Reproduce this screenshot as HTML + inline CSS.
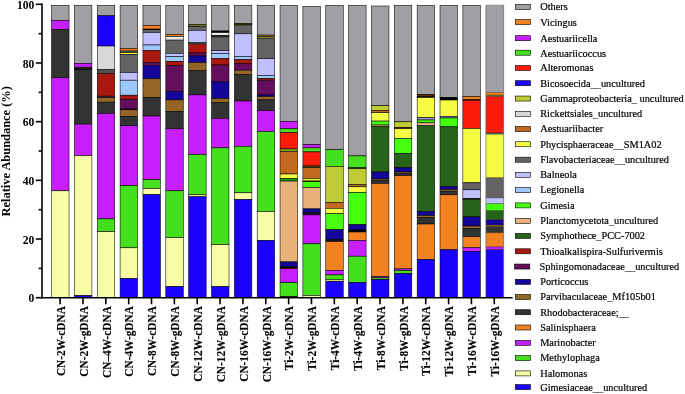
<!DOCTYPE html>
<html><head><meta charset="utf-8"><title>Relative Abundance</title>
<style>
html,body{margin:0;padding:0;background:#fff;}
body{width:685px;height:394px;overflow:hidden;}
svg{display:block;will-change:transform;}
text{font-family:"Liberation Serif",serif;fill:#000;}
.b{font-weight:bold;}
</style></head><body>
<svg width="685" height="394" viewBox="0 0 685 394">
<rect x="0" y="0" width="685" height="394" fill="#fff"/>
<g stroke="#000" stroke-width="0.55">
<rect x="51.55" y="5.30" width="17.50" height="15.30" fill="#a09fa4"/>
<rect x="51.55" y="20.60" width="17.50" height="8.80" fill="#c71fff"/>
<rect x="51.55" y="29.40" width="17.50" height="48.40" fill="#323433"/>
<rect x="51.55" y="77.80" width="17.50" height="113.00" fill="#c71fff"/>
<rect x="51.55" y="190.80" width="17.50" height="106.60" fill="#f6fda4"/>
</g>
<g stroke="#000" stroke-width="0.55">
<rect x="74.40" y="5.30" width="17.50" height="58.10" fill="#a09fa4"/>
<rect x="74.40" y="63.40" width="17.50" height="3.80" fill="#c71fff"/>
<rect x="74.40" y="67.20" width="17.50" height="1.80" fill="#323433"/>
<rect x="74.40" y="69.00" width="17.50" height="0.80" fill="#323433"/>
<rect x="74.40" y="69.80" width="17.50" height="54.30" fill="#323433"/>
<rect x="74.40" y="124.10" width="17.50" height="31.50" fill="#c71fff"/>
<rect x="74.40" y="155.60" width="17.50" height="140.10" fill="#f6fda4"/>
<rect x="74.40" y="295.70" width="17.50" height="1.70" fill="#1a00ff"/>
</g>
<g stroke="#000" stroke-width="0.55">
<rect x="97.25" y="5.30" width="17.50" height="10.50" fill="#a09fa4"/>
<rect x="97.25" y="15.80" width="17.50" height="30.20" fill="#1a00ff"/>
<rect x="97.25" y="46.00" width="17.50" height="23.40" fill="#d8d8d8"/>
<rect x="97.25" y="69.40" width="17.50" height="4.10" fill="#505050"/>
<rect x="97.25" y="73.50" width="17.50" height="22.70" fill="#a8180e"/>
<rect x="97.25" y="96.20" width="17.50" height="1.40" fill="#630f5e"/>
<rect x="97.25" y="97.60" width="17.50" height="4.60" fill="#956528"/>
<rect x="97.25" y="102.20" width="17.50" height="11.30" fill="#323433"/>
<rect x="97.25" y="113.50" width="17.50" height="105.40" fill="#c71fff"/>
<rect x="97.25" y="218.90" width="17.50" height="12.80" fill="#44e01e"/>
<rect x="97.25" y="231.70" width="17.50" height="65.70" fill="#f6fda4"/>
</g>
<g stroke="#000" stroke-width="0.55">
<rect x="120.10" y="5.30" width="17.50" height="43.00" fill="#a09fa4"/>
<rect x="120.10" y="48.30" width="17.50" height="2.70" fill="#f28122"/>
<rect x="120.10" y="51.00" width="17.50" height="1.70" fill="#636363"/>
<rect x="120.10" y="52.70" width="17.50" height="1.70" fill="#f4fb40"/>
<rect x="120.10" y="54.40" width="17.50" height="18.10" fill="#636363"/>
<rect x="120.10" y="72.50" width="17.50" height="7.70" fill="#c0c0ff"/>
<rect x="120.10" y="80.20" width="17.50" height="15.00" fill="#9cc8fc"/>
<rect x="120.10" y="95.20" width="17.50" height="4.30" fill="#a8180e"/>
<rect x="120.10" y="99.50" width="17.50" height="9.50" fill="#630f5e"/>
<rect x="120.10" y="109.00" width="17.50" height="0.80" fill="#14069a"/>
<rect x="120.10" y="109.80" width="17.50" height="6.50" fill="#956528"/>
<rect x="120.10" y="116.30" width="17.50" height="9.50" fill="#323433"/>
<rect x="120.10" y="125.80" width="17.50" height="59.90" fill="#c71fff"/>
<rect x="120.10" y="185.70" width="17.50" height="62.10" fill="#44e01e"/>
<rect x="120.10" y="247.80" width="17.50" height="30.80" fill="#f6fda4"/>
<rect x="120.10" y="278.60" width="17.50" height="18.80" fill="#1a00ff"/>
</g>
<g stroke="#000" stroke-width="0.55">
<rect x="142.95" y="5.30" width="17.50" height="20.10" fill="#a09fa4"/>
<rect x="142.95" y="25.40" width="17.50" height="3.70" fill="#f28122"/>
<rect x="142.95" y="29.10" width="17.50" height="0.70" fill="#323433"/>
<rect x="142.95" y="29.80" width="17.50" height="2.70" fill="#636363"/>
<rect x="142.95" y="32.50" width="17.50" height="12.50" fill="#c0c0ff"/>
<rect x="142.95" y="45.00" width="17.50" height="5.30" fill="#9cc8fc"/>
<rect x="142.95" y="50.30" width="17.50" height="12.50" fill="#a8180e"/>
<rect x="142.95" y="62.80" width="17.50" height="3.00" fill="#630f5e"/>
<rect x="142.95" y="65.80" width="17.50" height="13.00" fill="#14069a"/>
<rect x="142.95" y="78.80" width="17.50" height="18.80" fill="#956528"/>
<rect x="142.95" y="97.60" width="17.50" height="18.40" fill="#323433"/>
<rect x="142.95" y="116.00" width="17.50" height="63.70" fill="#c71fff"/>
<rect x="142.95" y="179.70" width="17.50" height="8.80" fill="#44e01e"/>
<rect x="142.95" y="188.50" width="17.50" height="6.00" fill="#f6fda4"/>
<rect x="142.95" y="194.50" width="17.50" height="102.90" fill="#1a00ff"/>
</g>
<g stroke="#000" stroke-width="0.55">
<rect x="165.80" y="5.30" width="17.50" height="29.10" fill="#a09fa4"/>
<rect x="165.80" y="34.40" width="17.50" height="2.20" fill="#f28122"/>
<rect x="165.80" y="36.60" width="17.50" height="3.50" fill="#ececec"/>
<rect x="165.80" y="40.10" width="17.50" height="13.30" fill="#636363"/>
<rect x="165.80" y="53.40" width="17.50" height="3.30" fill="#c0c0ff"/>
<rect x="165.80" y="56.70" width="17.50" height="4.60" fill="#9cc8fc"/>
<rect x="165.80" y="61.30" width="17.50" height="4.00" fill="#a8180e"/>
<rect x="165.80" y="65.30" width="17.50" height="26.30" fill="#630f5e"/>
<rect x="165.80" y="91.60" width="17.50" height="8.30" fill="#14069a"/>
<rect x="165.80" y="99.90" width="17.50" height="11.80" fill="#956528"/>
<rect x="165.80" y="111.70" width="17.50" height="17.10" fill="#323433"/>
<rect x="165.80" y="128.80" width="17.50" height="62.00" fill="#c71fff"/>
<rect x="165.80" y="190.80" width="17.50" height="46.90" fill="#44e01e"/>
<rect x="165.80" y="237.70" width="17.50" height="48.70" fill="#f6fda4"/>
<rect x="165.80" y="286.40" width="17.50" height="11.00" fill="#1a00ff"/>
</g>
<g stroke="#000" stroke-width="0.55">
<rect x="188.65" y="5.30" width="17.50" height="19.00" fill="#a09fa4"/>
<rect x="188.65" y="24.30" width="17.50" height="2.20" fill="#6e7a18"/>
<rect x="188.65" y="26.50" width="17.50" height="3.80" fill="#636363"/>
<rect x="188.65" y="30.30" width="17.50" height="12.10" fill="#c0c0ff"/>
<rect x="188.65" y="42.40" width="17.50" height="1.50" fill="#5f9fb8"/>
<rect x="188.65" y="43.90" width="17.50" height="9.10" fill="#a8180e"/>
<rect x="188.65" y="53.00" width="17.50" height="3.00" fill="#630f5e"/>
<rect x="188.65" y="56.00" width="17.50" height="6.60" fill="#14069a"/>
<rect x="188.65" y="62.60" width="17.50" height="8.20" fill="#956528"/>
<rect x="188.65" y="70.80" width="17.50" height="24.10" fill="#323433"/>
<rect x="188.65" y="94.90" width="17.50" height="59.70" fill="#c71fff"/>
<rect x="188.65" y="154.60" width="17.50" height="40.20" fill="#44e01e"/>
<rect x="188.65" y="194.80" width="17.50" height="2.00" fill="#f6fda4"/>
<rect x="188.65" y="196.80" width="17.50" height="100.60" fill="#1a00ff"/>
</g>
<g stroke="#000" stroke-width="0.55">
<rect x="211.50" y="5.30" width="17.50" height="25.70" fill="#a09fa4"/>
<rect x="211.50" y="31.00" width="17.50" height="1.70" fill="#000000"/>
<rect x="211.50" y="32.70" width="17.50" height="2.60" fill="#ececec"/>
<rect x="211.50" y="35.30" width="17.50" height="1.60" fill="#323433"/>
<rect x="211.50" y="36.90" width="17.50" height="13.80" fill="#636363"/>
<rect x="211.50" y="50.70" width="17.50" height="3.00" fill="#c0c0ff"/>
<rect x="211.50" y="53.70" width="17.50" height="4.70" fill="#9cc8fc"/>
<rect x="211.50" y="58.40" width="17.50" height="6.60" fill="#a8180e"/>
<rect x="211.50" y="65.00" width="17.50" height="16.90" fill="#630f5e"/>
<rect x="211.50" y="81.90" width="17.50" height="16.70" fill="#14069a"/>
<rect x="211.50" y="98.60" width="17.50" height="3.80" fill="#956528"/>
<rect x="211.50" y="102.40" width="17.50" height="16.00" fill="#323433"/>
<rect x="211.50" y="118.40" width="17.50" height="29.50" fill="#c71fff"/>
<rect x="211.50" y="147.90" width="17.50" height="96.70" fill="#44e01e"/>
<rect x="211.50" y="244.60" width="17.50" height="42.10" fill="#f6fda4"/>
<rect x="211.50" y="286.70" width="17.50" height="10.70" fill="#1a00ff"/>
</g>
<g stroke="#000" stroke-width="0.55">
<rect x="234.35" y="5.30" width="17.50" height="18.00" fill="#a09fa4"/>
<rect x="234.35" y="23.30" width="17.50" height="1.70" fill="#4f5010"/>
<rect x="234.35" y="25.00" width="17.50" height="8.80" fill="#636363"/>
<rect x="234.35" y="33.80" width="17.50" height="22.70" fill="#c0c0ff"/>
<rect x="234.35" y="56.50" width="17.50" height="3.20" fill="#9cc8fc"/>
<rect x="234.35" y="59.70" width="17.50" height="4.10" fill="#a8180e"/>
<rect x="234.35" y="63.80" width="17.50" height="6.40" fill="#630f5e"/>
<rect x="234.35" y="70.20" width="17.50" height="4.30" fill="#956528"/>
<rect x="234.35" y="74.50" width="17.50" height="26.50" fill="#323433"/>
<rect x="234.35" y="101.00" width="17.50" height="45.30" fill="#c71fff"/>
<rect x="234.35" y="146.30" width="17.50" height="46.50" fill="#44e01e"/>
<rect x="234.35" y="192.80" width="17.50" height="6.70" fill="#f6fda4"/>
<rect x="234.35" y="199.50" width="17.50" height="97.90" fill="#1a00ff"/>
</g>
<g stroke="#000" stroke-width="0.55">
<rect x="257.20" y="5.30" width="17.50" height="29.80" fill="#a09fa4"/>
<rect x="257.20" y="35.10" width="17.50" height="1.50" fill="#c2691e"/>
<rect x="257.20" y="36.60" width="17.50" height="1.60" fill="#98a525"/>
<rect x="257.20" y="38.20" width="17.50" height="20.50" fill="#636363"/>
<rect x="257.20" y="58.70" width="17.50" height="16.80" fill="#c0c0ff"/>
<rect x="257.20" y="75.50" width="17.50" height="3.20" fill="#9cc8fc"/>
<rect x="257.20" y="78.70" width="17.50" height="1.50" fill="#a8180e"/>
<rect x="257.20" y="80.20" width="17.50" height="14.70" fill="#630f5e"/>
<rect x="257.20" y="94.90" width="17.50" height="1.70" fill="#14069a"/>
<rect x="257.20" y="96.60" width="17.50" height="3.30" fill="#956528"/>
<rect x="257.20" y="99.90" width="17.50" height="10.80" fill="#323433"/>
<rect x="257.20" y="110.70" width="17.50" height="20.80" fill="#c71fff"/>
<rect x="257.20" y="131.50" width="17.50" height="80.10" fill="#44e01e"/>
<rect x="257.20" y="211.60" width="17.50" height="28.80" fill="#f6fda4"/>
<rect x="257.20" y="240.40" width="17.50" height="57.00" fill="#1a00ff"/>
</g>
<g stroke="#000" stroke-width="0.55">
<rect x="280.05" y="5.30" width="17.50" height="116.20" fill="#a09fa4"/>
<rect x="280.05" y="121.50" width="17.50" height="7.30" fill="#c71fff"/>
<rect x="280.05" y="128.80" width="17.50" height="3.70" fill="#44e01e"/>
<rect x="280.05" y="132.50" width="17.50" height="16.40" fill="#fc1c0c"/>
<rect x="280.05" y="148.90" width="17.50" height="2.40" fill="#80a020"/>
<rect x="280.05" y="151.30" width="17.50" height="22.70" fill="#c2691e"/>
<rect x="280.05" y="174.00" width="17.50" height="4.40" fill="#f4fb40"/>
<rect x="280.05" y="178.40" width="17.50" height="2.70" fill="#1f9612"/>
<rect x="280.05" y="181.10" width="17.50" height="80.80" fill="#e8b27c"/>
<rect x="280.05" y="261.90" width="17.50" height="4.70" fill="#14069a"/>
<rect x="280.05" y="266.60" width="17.50" height="2.00" fill="#000000"/>
<rect x="280.05" y="268.60" width="17.50" height="14.10" fill="#c71fff"/>
<rect x="280.05" y="282.70" width="17.50" height="14.00" fill="#44e01e"/>
<rect x="280.05" y="296.70" width="17.50" height="0.70" fill="#000000"/>
</g>
<g stroke="#000" stroke-width="0.55">
<rect x="302.90" y="6.30" width="17.50" height="138.30" fill="#a09fa4"/>
<rect x="302.90" y="144.60" width="17.50" height="3.30" fill="#c71fff"/>
<rect x="302.90" y="147.90" width="17.50" height="4.00" fill="#44e01e"/>
<rect x="302.90" y="151.90" width="17.50" height="14.10" fill="#fc1c0c"/>
<rect x="302.90" y="166.00" width="17.50" height="1.60" fill="#4f5010"/>
<rect x="302.90" y="167.60" width="17.50" height="10.80" fill="#c2691e"/>
<rect x="302.90" y="178.40" width="17.50" height="2.60" fill="#f4fb40"/>
<rect x="302.90" y="181.00" width="17.50" height="0.70" fill="#000000"/>
<rect x="302.90" y="181.70" width="17.50" height="5.80" fill="#44ff0e"/>
<rect x="302.90" y="187.50" width="17.50" height="21.40" fill="#e8b27c"/>
<rect x="302.90" y="208.90" width="17.50" height="3.70" fill="#14069a"/>
<rect x="302.90" y="212.60" width="17.50" height="2.30" fill="#15101c"/>
<rect x="302.90" y="214.90" width="17.50" height="28.90" fill="#c71fff"/>
<rect x="302.90" y="243.80" width="17.50" height="51.70" fill="#44e01e"/>
<rect x="302.90" y="295.50" width="17.50" height="1.90" fill="#f6fda4"/>
</g>
<g stroke="#000" stroke-width="0.55">
<rect x="325.75" y="5.30" width="17.50" height="144.30" fill="#a09fa4"/>
<rect x="325.75" y="149.60" width="17.50" height="16.80" fill="#44e01e"/>
<rect x="325.75" y="166.40" width="17.50" height="36.20" fill="#c0ca33"/>
<rect x="325.75" y="202.60" width="17.50" height="5.70" fill="#c2691e"/>
<rect x="325.75" y="208.30" width="17.50" height="5.30" fill="#f4fb40"/>
<rect x="325.75" y="213.60" width="17.50" height="16.10" fill="#44ff0e"/>
<rect x="325.75" y="229.70" width="17.50" height="9.90" fill="#14069a"/>
<rect x="325.75" y="239.60" width="17.50" height="2.00" fill="#15101c"/>
<rect x="325.75" y="241.60" width="17.50" height="28.70" fill="#f28122"/>
<rect x="325.75" y="270.30" width="17.50" height="4.60" fill="#c71fff"/>
<rect x="325.75" y="274.90" width="17.50" height="5.00" fill="#44e01e"/>
<rect x="325.75" y="279.90" width="17.50" height="1.50" fill="#f6fda4"/>
<rect x="325.75" y="281.40" width="17.50" height="16.00" fill="#1a00ff"/>
</g>
<g stroke="#000" stroke-width="0.55">
<rect x="348.60" y="5.30" width="17.50" height="150.60" fill="#a09fa4"/>
<rect x="348.60" y="155.90" width="17.50" height="11.90" fill="#44e01e"/>
<rect x="348.60" y="167.80" width="17.50" height="0.90" fill="#1e5a10"/>
<rect x="348.60" y="168.70" width="17.50" height="16.10" fill="#c0ca33"/>
<rect x="348.60" y="184.80" width="17.50" height="2.00" fill="#c2691e"/>
<rect x="348.60" y="186.80" width="17.50" height="5.70" fill="#f4fb40"/>
<rect x="348.60" y="192.50" width="17.50" height="32.20" fill="#44ff0e"/>
<rect x="348.60" y="224.70" width="17.50" height="5.30" fill="#14069a"/>
<rect x="348.60" y="230.00" width="17.50" height="2.00" fill="#000000"/>
<rect x="348.60" y="232.00" width="17.50" height="8.60" fill="#f28122"/>
<rect x="348.60" y="240.60" width="17.50" height="15.60" fill="#c71fff"/>
<rect x="348.60" y="256.20" width="17.50" height="26.20" fill="#44e01e"/>
<rect x="348.60" y="282.40" width="17.50" height="15.00" fill="#1a00ff"/>
</g>
<g stroke="#000" stroke-width="0.55">
<rect x="371.45" y="6.00" width="17.50" height="99.70" fill="#a09fa4"/>
<rect x="371.45" y="105.70" width="17.50" height="4.70" fill="#c0ca33"/>
<rect x="371.45" y="110.40" width="17.50" height="2.30" fill="#c2691e"/>
<rect x="371.45" y="112.70" width="17.50" height="8.40" fill="#f4fb40"/>
<rect x="371.45" y="121.10" width="17.50" height="3.90" fill="#44ff0e"/>
<rect x="371.45" y="125.00" width="17.50" height="1.50" fill="#e8b27c"/>
<rect x="371.45" y="126.50" width="17.50" height="45.50" fill="#276419"/>
<rect x="371.45" y="172.00" width="17.50" height="7.00" fill="#14069a"/>
<rect x="371.45" y="179.00" width="17.50" height="1.40" fill="#956528"/>
<rect x="371.45" y="180.40" width="17.50" height="3.10" fill="#323433"/>
<rect x="371.45" y="183.50" width="17.50" height="93.10" fill="#f28122"/>
<rect x="371.45" y="276.60" width="17.50" height="1.30" fill="#c71fff"/>
<rect x="371.45" y="277.90" width="17.50" height="1.70" fill="#44e01e"/>
<rect x="371.45" y="279.60" width="17.50" height="17.80" fill="#1a00ff"/>
</g>
<g stroke="#000" stroke-width="0.55">
<rect x="394.30" y="5.30" width="17.50" height="116.50" fill="#a09fa4"/>
<rect x="394.30" y="121.80" width="17.50" height="5.60" fill="#c0ca33"/>
<rect x="394.30" y="127.40" width="17.50" height="1.30" fill="#5a2a0a"/>
<rect x="394.30" y="128.70" width="17.50" height="9.80" fill="#f4fb40"/>
<rect x="394.30" y="138.50" width="17.50" height="14.80" fill="#44ff0e"/>
<rect x="394.30" y="153.30" width="17.50" height="14.40" fill="#276419"/>
<rect x="394.30" y="167.70" width="17.50" height="4.30" fill="#14069a"/>
<rect x="394.30" y="172.00" width="17.50" height="1.40" fill="#956528"/>
<rect x="394.30" y="173.40" width="17.50" height="2.30" fill="#323433"/>
<rect x="394.30" y="175.70" width="17.50" height="93.20" fill="#f28122"/>
<rect x="394.30" y="268.90" width="17.50" height="1.70" fill="#c71fff"/>
<rect x="394.30" y="270.60" width="17.50" height="3.00" fill="#44e01e"/>
<rect x="394.30" y="273.60" width="17.50" height="23.80" fill="#1a00ff"/>
</g>
<g stroke="#000" stroke-width="0.55">
<rect x="417.15" y="5.30" width="17.50" height="89.30" fill="#a09fa4"/>
<rect x="417.15" y="94.60" width="17.50" height="2.00" fill="#5a2a0a"/>
<rect x="417.15" y="96.60" width="17.50" height="1.00" fill="#000000"/>
<rect x="417.15" y="97.60" width="17.50" height="20.10" fill="#f4fb40"/>
<rect x="417.15" y="117.70" width="17.50" height="2.30" fill="#9a9ad8"/>
<rect x="417.15" y="120.00" width="17.50" height="2.80" fill="#44ff0e"/>
<rect x="417.15" y="122.80" width="17.50" height="3.00" fill="#e8b27c"/>
<rect x="417.15" y="125.80" width="17.50" height="85.80" fill="#276419"/>
<rect x="417.15" y="211.60" width="17.50" height="4.00" fill="#14069a"/>
<rect x="417.15" y="215.60" width="17.50" height="2.00" fill="#956528"/>
<rect x="417.15" y="217.60" width="17.50" height="6.40" fill="#323433"/>
<rect x="417.15" y="224.00" width="17.50" height="35.50" fill="#f28122"/>
<rect x="417.15" y="259.50" width="17.50" height="37.90" fill="#1a00ff"/>
</g>
<g stroke="#000" stroke-width="0.55">
<rect x="440.00" y="5.30" width="17.50" height="92.00" fill="#a09fa4"/>
<rect x="440.00" y="97.30" width="17.50" height="2.70" fill="#000000"/>
<rect x="440.00" y="100.00" width="17.50" height="16.40" fill="#f4fb40"/>
<rect x="440.00" y="116.40" width="17.50" height="1.60" fill="#9a9ad8"/>
<rect x="440.00" y="118.00" width="17.50" height="8.80" fill="#44ff0e"/>
<rect x="440.00" y="126.80" width="17.50" height="59.70" fill="#276419"/>
<rect x="440.00" y="186.50" width="17.50" height="3.30" fill="#14069a"/>
<rect x="440.00" y="189.80" width="17.50" height="1.70" fill="#956528"/>
<rect x="440.00" y="191.50" width="17.50" height="3.30" fill="#323433"/>
<rect x="440.00" y="194.80" width="17.50" height="55.00" fill="#f28122"/>
<rect x="440.00" y="249.80" width="17.50" height="47.60" fill="#1a00ff"/>
</g>
<g stroke="#000" stroke-width="0.55">
<rect x="462.85" y="5.30" width="17.50" height="91.30" fill="#a09fa4"/>
<rect x="462.85" y="96.60" width="17.50" height="3.10" fill="#f28122"/>
<rect x="462.85" y="99.70" width="17.50" height="0.60" fill="#a8180e"/>
<rect x="462.85" y="100.30" width="17.50" height="28.20" fill="#fc1c0c"/>
<rect x="462.85" y="128.50" width="17.50" height="54.30" fill="#f4fb40"/>
<rect x="462.85" y="182.80" width="17.50" height="7.00" fill="#636363"/>
<rect x="462.85" y="189.80" width="17.50" height="8.70" fill="#c0c0ff"/>
<rect x="462.85" y="198.50" width="17.50" height="0.80" fill="#000000"/>
<rect x="462.85" y="199.30" width="17.50" height="17.60" fill="#276419"/>
<rect x="462.85" y="216.90" width="17.50" height="9.10" fill="#14069a"/>
<rect x="462.85" y="226.00" width="17.50" height="2.70" fill="#956528"/>
<rect x="462.85" y="228.70" width="17.50" height="8.00" fill="#323433"/>
<rect x="462.85" y="236.70" width="17.50" height="11.10" fill="#f28122"/>
<rect x="462.85" y="247.80" width="17.50" height="3.70" fill="#c71fff"/>
<rect x="462.85" y="251.50" width="17.50" height="45.90" fill="#1a00ff"/>
</g>
<g>
<rect x="485.90" y="5.00" width="17.75" height="87.60" fill="#a09fa4"/>
<rect x="485.90" y="92.40" width="17.75" height="2.90" fill="#f28122"/>
<rect x="485.90" y="95.10" width="17.75" height="1.50" fill="#6e7a18"/>
<rect x="485.90" y="96.40" width="17.75" height="36.60" fill="#fc1c0c"/>
<rect x="485.90" y="132.80" width="17.75" height="1.60" fill="#636363"/>
<rect x="485.90" y="134.20" width="17.75" height="43.70" fill="#f4fb40"/>
<rect x="485.90" y="177.70" width="17.75" height="20.30" fill="#636363"/>
<rect x="485.90" y="197.80" width="17.75" height="6.00" fill="#c0c0ff"/>
<rect x="485.90" y="203.60" width="17.75" height="7.20" fill="#44ff0e"/>
<rect x="485.90" y="210.60" width="17.75" height="9.20" fill="#276419"/>
<rect x="485.90" y="219.60" width="17.75" height="5.60" fill="#14069a"/>
<rect x="485.90" y="225.00" width="17.75" height="1.90" fill="#956528"/>
<rect x="485.90" y="226.70" width="17.75" height="6.20" fill="#323433"/>
<rect x="485.90" y="232.70" width="17.75" height="14.30" fill="#f28122"/>
<rect x="485.90" y="246.80" width="17.75" height="2.90" fill="#c71fff"/>
<rect x="485.90" y="249.50" width="17.75" height="48.10" fill="#1a00ff"/>
</g>
<g stroke="#222" stroke-width="0.45" fill="none">
<path d="M485.90 92.40 H503.65"/>
<path d="M485.90 95.10 H503.65"/>
<path d="M485.90 96.40 H503.65"/>
<path d="M485.90 132.80 H503.65"/>
<path d="M485.90 134.20 H503.65"/>
<path d="M485.90 177.70 H503.65"/>
<path d="M485.90 197.80 H503.65"/>
<path d="M485.90 203.60 H503.65"/>
<path d="M485.90 210.60 H503.65"/>
<path d="M485.90 219.60 H503.65"/>
<path d="M485.90 225.00 H503.65"/>
<path d="M485.90 226.70 H503.65"/>
<path d="M485.90 232.70 H503.65"/>
<path d="M485.90 246.80 H503.65"/>
<path d="M485.90 249.50 H503.65"/>
</g>
<path d="M485.90 5.00 V297.40 M503.65 5.00 V297.40" stroke="#555" stroke-width="0.6" fill="none"/>
<path d="M485.90 5.00 H503.65" stroke="#8a8a8a" stroke-width="0.5" fill="none"/>
<g stroke="#000" stroke-width="1.60" fill="none">
<path d="M42.00 3.5 V298.5"/>
<path d="M41.20 297.7 H512.7"/>
<path d="M35.8 4.30 H42.00"/>
<path d="M38.6 33.64 H42.00"/>
<path d="M35.8 62.98 H42.00"/>
<path d="M38.6 92.32 H42.00"/>
<path d="M35.8 121.66 H42.00"/>
<path d="M38.6 151.00 H42.00"/>
<path d="M35.8 180.34 H42.00"/>
<path d="M38.6 209.68 H42.00"/>
<path d="M35.8 239.02 H42.00"/>
<path d="M38.6 268.36 H42.00"/>
<path d="M35.8 297.70 H42.00"/>
<path d="M60.12 297.7 V304.3"/>
<path d="M82.98 297.7 V304.3"/>
<path d="M105.83 297.7 V304.3"/>
<path d="M128.68 297.7 V304.3"/>
<path d="M151.52 297.7 V304.3"/>
<path d="M174.38 297.7 V304.3"/>
<path d="M197.23 297.7 V304.3"/>
<path d="M220.07 297.7 V304.3"/>
<path d="M242.93 297.7 V304.3"/>
<path d="M265.77 297.7 V304.3"/>
<path d="M288.62 297.7 V304.3"/>
<path d="M311.48 297.7 V304.3"/>
<path d="M334.33 297.7 V304.3"/>
<path d="M357.18 297.7 V304.3"/>
<path d="M380.03 297.7 V304.3"/>
<path d="M402.88 297.7 V304.3"/>
<path d="M425.73 297.7 V304.3"/>
<path d="M448.58 297.7 V304.3"/>
<path d="M471.43 297.7 V304.3"/>
<path d="M494.28 297.7 V304.3"/>
</g>
<text class="b" x="34.4" y="8.90" font-size="11.6" text-anchor="end">100</text>
<text class="b" x="34.4" y="67.58" font-size="11.6" text-anchor="end">80</text>
<text class="b" x="34.4" y="126.26" font-size="11.6" text-anchor="end">60</text>
<text class="b" x="34.4" y="184.94" font-size="11.6" text-anchor="end">40</text>
<text class="b" x="34.4" y="243.62" font-size="11.6" text-anchor="end">20</text>
<text class="b" x="34.4" y="302.30" font-size="11.6" text-anchor="end">0</text>
<text class="b" transform="translate(10.2,151.3) rotate(-90) scale(0.933,1)" font-size="13.3" text-anchor="middle">Relative Abundance (%)</text>
<text class="b" transform="translate(64.88,306.2) rotate(-90) scale(0.92,1)" font-size="12.3" text-anchor="end" stroke="#000" stroke-width="0.15">CN-2W-cDNA</text>
<text class="b" transform="translate(87.73,306.2) rotate(-90) scale(0.92,1)" font-size="12.3" text-anchor="end" stroke="#000" stroke-width="0.15">CN-2W-gDNA</text>
<text class="b" transform="translate(110.58,306.2) rotate(-90) scale(0.92,1)" font-size="12.3" text-anchor="end" stroke="#000" stroke-width="0.15">CN–4W-cDNA</text>
<text class="b" transform="translate(133.43,306.2) rotate(-90) scale(0.92,1)" font-size="12.3" text-anchor="end" stroke="#000" stroke-width="0.15">CN-4W-gDNA</text>
<text class="b" transform="translate(156.27,306.2) rotate(-90) scale(0.92,1)" font-size="12.3" text-anchor="end" stroke="#000" stroke-width="0.15">CN-8W-cDNA</text>
<text class="b" transform="translate(179.12,306.2) rotate(-90) scale(0.92,1)" font-size="12.3" text-anchor="end" stroke="#000" stroke-width="0.15">CN-8W-gDNA</text>
<text class="b" transform="translate(201.98,306.2) rotate(-90) scale(0.92,1)" font-size="12.3" text-anchor="end" stroke="#000" stroke-width="0.15">CN-12W-cDNA</text>
<text class="b" transform="translate(224.82,306.2) rotate(-90) scale(0.92,1)" font-size="12.3" text-anchor="end" stroke="#000" stroke-width="0.15">CN-12W-gDNA</text>
<text class="b" transform="translate(247.68,306.2) rotate(-90) scale(0.92,1)" font-size="12.3" text-anchor="end" stroke="#000" stroke-width="0.15">CN-16W-cDNA</text>
<text class="b" transform="translate(270.52,306.2) rotate(-90) scale(0.92,1)" font-size="12.3" text-anchor="end" stroke="#000" stroke-width="0.15">CN-16W-gDNA</text>
<text class="b" transform="translate(293.38,306.2) rotate(-90) scale(0.92,1)" font-size="12.3" text-anchor="end" stroke="#000" stroke-width="0.15">Ti-2W-cDNA</text>
<text class="b" transform="translate(316.23,306.2) rotate(-90) scale(0.92,1)" font-size="12.3" text-anchor="end" stroke="#000" stroke-width="0.15">Ti-2W-gDNA</text>
<text class="b" transform="translate(339.08,306.2) rotate(-90) scale(0.92,1)" font-size="12.3" text-anchor="end" stroke="#000" stroke-width="0.15">Ti-4W-cDNA</text>
<text class="b" transform="translate(361.93,306.2) rotate(-90) scale(0.92,1)" font-size="12.3" text-anchor="end" stroke="#000" stroke-width="0.15">Ti-4W-gDNA</text>
<text class="b" transform="translate(384.78,306.2) rotate(-90) scale(0.92,1)" font-size="12.3" text-anchor="end" stroke="#000" stroke-width="0.15">Ti-8W-cDNA</text>
<text class="b" transform="translate(407.62,306.2) rotate(-90) scale(0.92,1)" font-size="12.3" text-anchor="end" stroke="#000" stroke-width="0.15">Ti-8W-gDNA</text>
<text class="b" transform="translate(430.48,306.2) rotate(-90) scale(0.92,1)" font-size="12.3" text-anchor="end" stroke="#000" stroke-width="0.15">Ti-12W-cDNA</text>
<text class="b" transform="translate(453.33,306.2) rotate(-90) scale(0.92,1)" font-size="12.3" text-anchor="end" stroke="#000" stroke-width="0.15">Ti-12W-gDNA</text>
<text class="b" transform="translate(476.18,306.2) rotate(-90) scale(0.92,1)" font-size="12.3" text-anchor="end" stroke="#000" stroke-width="0.15">Ti-16W-cDNA</text>
<text class="b" transform="translate(499.03,306.2) rotate(-90) scale(0.92,1)" font-size="12.3" text-anchor="end" stroke="#000" stroke-width="0.15">Ti-16W-gDNA</text>
<rect x="515.30" y="4.50" width="15.2" height="5.0" fill="#a09fa4" stroke="#000" stroke-width="0.6"/>
<text x="540.20" y="10.20" font-size="10.32" stroke="#000" stroke-width="0.2">Others</text>
<rect x="515.30" y="19.60" width="15.2" height="5.0" fill="#f28122" stroke="#000" stroke-width="0.6"/>
<text x="540.20" y="25.50" font-size="10.32" stroke="#000" stroke-width="0.2">Vicingus</text>
<rect x="515.30" y="35.70" width="15.2" height="5.0" fill="#c71fff" stroke="#000" stroke-width="0.6"/>
<text x="540.20" y="41.90" font-size="10.32" stroke="#000" stroke-width="0.2">Aestuariicella</text>
<rect x="515.30" y="50.20" width="15.2" height="5.0" fill="#44e01e" stroke="#000" stroke-width="0.6"/>
<text x="540.20" y="56.60" font-size="10.32" stroke="#000" stroke-width="0.2">Aestuariicoccus</text>
<rect x="515.30" y="65.50" width="15.2" height="5.0" fill="#fc1c0c" stroke="#000" stroke-width="0.6"/>
<text x="540.20" y="71.40" font-size="10.32" stroke="#000" stroke-width="0.2">Alteromonas</text>
<rect x="515.30" y="80.70" width="15.2" height="5.0" fill="#1a00ff" stroke="#000" stroke-width="0.6"/>
<text x="540.20" y="86.90" font-size="10.32" stroke="#000" stroke-width="0.2">Bicosoecida__uncultured</text>
<rect x="515.30" y="96.05" width="15.2" height="5.0" fill="#c0ca33" stroke="#000" stroke-width="0.6"/>
<text x="540.20" y="101.85" font-size="10.32" stroke="#000" stroke-width="0.2">Gammaproteobacteria_ uncultured</text>
<rect x="515.30" y="111.30" width="15.2" height="5.0" fill="#d8d8d8" stroke="#000" stroke-width="0.6"/>
<text x="540.20" y="116.90" font-size="10.32" stroke="#000" stroke-width="0.2">Rickettsiales_uncultured</text>
<rect x="515.30" y="126.60" width="15.2" height="5.0" fill="#c2691e" stroke="#000" stroke-width="0.6"/>
<text x="540.20" y="132.45" font-size="10.32" stroke="#000" stroke-width="0.2">Aestuariibacter</text>
<rect x="515.30" y="141.75" width="15.2" height="5.0" fill="#f4fb40" stroke="#000" stroke-width="0.6"/>
<text x="540.20" y="147.65" font-size="10.32" stroke="#000" stroke-width="0.2">Phycisphaeraceae__SM1A02</text>
<rect x="515.30" y="157.20" width="15.2" height="5.0" fill="#636363" stroke="#000" stroke-width="0.6"/>
<text x="540.20" y="163.25" font-size="10.32" stroke="#000" stroke-width="0.2">Flavobacteriaceae__uncultured</text>
<rect x="515.30" y="172.30" width="15.2" height="5.0" fill="#c0c0ff" stroke="#000" stroke-width="0.6"/>
<text x="540.20" y="178.00" font-size="10.32" stroke="#000" stroke-width="0.2">Balneola</text>
<rect x="515.30" y="187.60" width="15.2" height="5.0" fill="#9cc8fc" stroke="#000" stroke-width="0.6"/>
<text x="540.20" y="193.30" font-size="10.32" stroke="#000" stroke-width="0.2">Legionella</text>
<rect x="515.30" y="202.90" width="15.2" height="5.0" fill="#44ff0e" stroke="#000" stroke-width="0.6"/>
<text x="540.20" y="208.75" font-size="10.32" stroke="#000" stroke-width="0.2">Gimesia</text>
<rect x="515.30" y="218.30" width="15.2" height="5.0" fill="#e8b27c" stroke="#000" stroke-width="0.6"/>
<text x="540.20" y="223.75" font-size="10.32" stroke="#000" stroke-width="0.2">Planctomycetota_uncultured</text>
<rect x="515.30" y="233.40" width="15.2" height="5.0" fill="#276419" stroke="#000" stroke-width="0.6"/>
<text x="540.20" y="239.10" font-size="10.32" stroke="#000" stroke-width="0.2">Symphothece_PCC-7002</text>
<rect x="515.30" y="248.80" width="15.2" height="5.0" fill="#a8180e" stroke="#000" stroke-width="0.6"/>
<text x="540.20" y="254.60" font-size="10.32" stroke="#000" stroke-width="0.2">Thioalkalispira-Sulfurivermis</text>
<rect x="514.60" y="264.05" width="15.2" height="5.0" fill="#630f5e" stroke="#000" stroke-width="0.6"/>
<text x="539.50" y="269.85" font-size="10.32" stroke="#000" stroke-width="0.2">Sphingomonadaceae__uncultured</text>
<rect x="515.30" y="279.30" width="15.2" height="5.0" fill="#14069a" stroke="#000" stroke-width="0.6"/>
<text x="540.20" y="285.00" font-size="10.32" stroke="#000" stroke-width="0.2">Porticoccus</text>
<rect x="515.30" y="294.50" width="15.2" height="5.0" fill="#956528" stroke="#000" stroke-width="0.6"/>
<text x="540.20" y="300.30" font-size="10.32" stroke="#000" stroke-width="0.2">Parvibaculaceae_Mf105b01</text>
<rect x="515.30" y="309.75" width="15.2" height="5.0" fill="#323433" stroke="#000" stroke-width="0.6"/>
<text x="540.20" y="315.65" font-size="10.32" stroke="#000" stroke-width="0.2">Rhodobacteraceae;__</text>
<rect x="515.30" y="325.00" width="15.2" height="5.0" fill="#f28122" stroke="#000" stroke-width="0.6"/>
<text x="540.20" y="330.80" font-size="10.32" stroke="#000" stroke-width="0.2">Salinisphaera</text>
<rect x="515.30" y="340.40" width="15.2" height="5.0" fill="#c71fff" stroke="#000" stroke-width="0.6"/>
<text x="540.20" y="346.20" font-size="10.32" stroke="#000" stroke-width="0.2">Marinobacter</text>
<rect x="515.30" y="355.60" width="15.2" height="5.0" fill="#44e01e" stroke="#000" stroke-width="0.6"/>
<text x="540.20" y="361.35" font-size="10.32" stroke="#000" stroke-width="0.2">Methylophaga</text>
<rect x="515.30" y="370.90" width="15.2" height="5.0" fill="#f6fda4" stroke="#000" stroke-width="0.6"/>
<text x="540.20" y="376.75" font-size="10.32" stroke="#000" stroke-width="0.2">Halomonas</text>
<rect x="515.30" y="384.60" width="15.2" height="5.0" fill="#1a00ff" stroke="#000" stroke-width="0.6"/>
<text x="540.20" y="390.50" font-size="10.32" stroke="#000" stroke-width="0.2">Gimesiaceae__uncultured</text>
</svg>
</body></html>
